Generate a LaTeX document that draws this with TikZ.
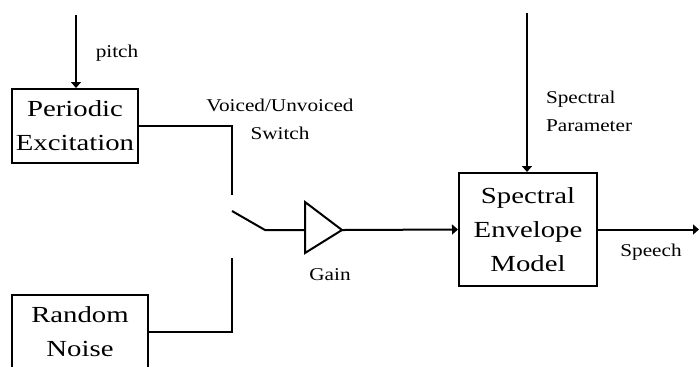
\documentclass[tikz,border=0pt]{standalone}
\usepackage{fontspec}
\setmainfont{Liberation Serif}
\newfontfamily\boxfont[FakeStretch=1.25]{Liberation Serif}
\newfontfamily\labelfont[FakeStretch=1.18]{Liberation Serif}
\usetikzlibrary{arrows.meta,positioning}
\tikzstyle{arrow} = [-{Triangle[length=3pt,width=5pt]}]
\tikzstyle{block} = [draw, rectangle, inner sep=0pt, align=center, font=\boxfont\fontsize{11.5}{17}\selectfont]
\tikzstyle{tag} = [align=center, inner sep=0pt, font=\labelfont\fontsize{9}{14}\selectfont]

\begin{document}
\begin{tikzpicture}[x=0.5pt,y=-0.5pt, line width=1pt]
    \useasboundingbox (0,0) rectangle (700,366);
    \clip (0,0) rectangle (700,366);
    % blocks
    \node[block, minimum width=63pt, minimum height=37pt] (periodic) at (75,126) {Periodic\\Excitation};
    \node[block, minimum width=68pt, minimum height=37pt] (random) at (80,332) {Random\\Noise};
    \node[block, minimum width=69pt, minimum height=56.5pt] (spectral) at (528,229.5) {Spectral\\Envelope\\Model};
    % switch and gain
    \coordinate (upper) at (232,195);
    \coordinate (lower) at (232,258);
    \coordinate (bladetip) at (232,211);
    \coordinate (pivot) at (265,230);
    \coordinate (gainin) at (305,230);
    \coordinate (gaintop) at (305,202);
    \coordinate (gainbot) at (305,253);
    \coordinate (gainout) at (342,230);
    \draw (gaintop) -- (gainout) -- (gainbot) -- cycle;
    % inputs and output
    \coordinate (pitchin) at (76,15);
    \coordinate (specin) at (527,13);
    \coordinate (out) at (699,229.5);
    \draw[arrow] (pitchin) -- (pitchin |- periodic.north);
    \draw (periodic.east) -| (upper);
    \draw (random.east) -| (lower);
    \draw (bladetip) -- (pivot) -- (gainin);
    \draw[arrow] (gainout) -- (spectral.west);
    \draw[arrow] (specin) -- (specin |- spectral.north);
    \draw[arrow] (spectral.east) -- (out);
    % labels
    \node[tag] (pitchlbl) at (117,53) {pitch};
    \node[tag] (switchlbl) at (280,119) {Voiced/Unvoiced\\Switch};
    \node[tag] (gainlbl) at (330,275) {Gain};
    \node[tag, align=left, anchor=west] (paramlbl) at (545,111) {Spectral\\Parameter};
    \node[tag] (speechlbl) at (651,252) {Speech};
\end{tikzpicture}
\end{document}
